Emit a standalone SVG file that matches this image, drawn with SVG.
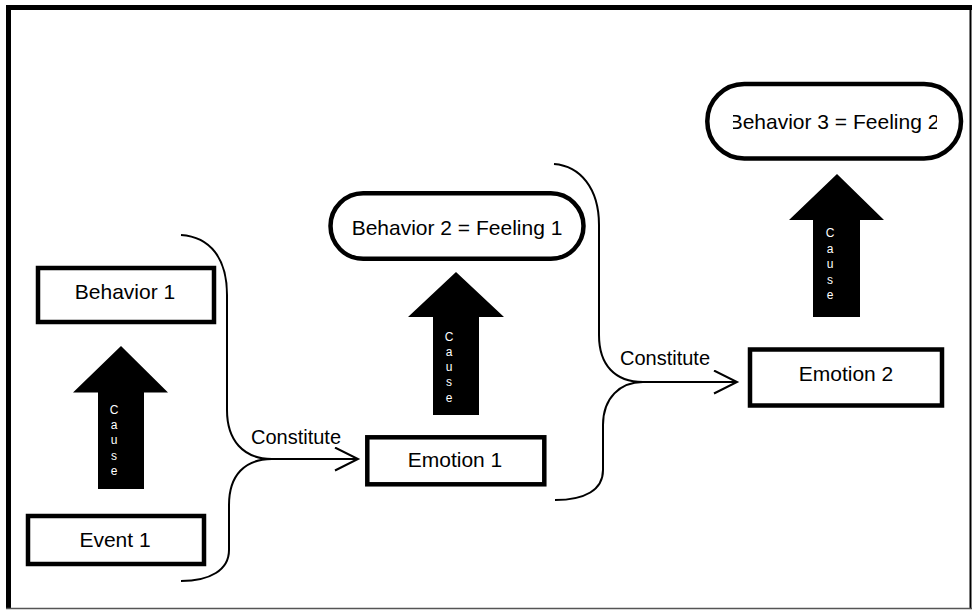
<svg xmlns="http://www.w3.org/2000/svg" width="973" height="611" viewBox="0 0 973 611">
  <style>
    .box { fill: #fff; stroke: #000; stroke-width: 4.5; }
    .lbl { font-family: "Liberation Sans", Arial, sans-serif; font-size: 21px; fill: #000; text-anchor: middle; }
    .con { font-family: "Liberation Sans", Arial, sans-serif; font-size: 20px; fill: #000; }
    .cause { font-family: "Liberation Sans", Arial, sans-serif; font-size: 12px; fill: #fff; text-anchor: middle; }
    .brace { fill: none; stroke: #000; stroke-width: 2; }
    .arr { fill: none; stroke: #000; stroke-width: 2; }
    .big { fill: #000; }
  </style>
  <defs>
    <marker id="open" markerUnits="userSpaceOnUse" markerWidth="30" markerHeight="30" refX="24" refY="12" orient="auto">
      <path d="M1,0.5 L24,12 L1,23.5" fill="none" stroke="#000" stroke-width="2"/>
    </marker>
    <clipPath id="clip3">
      <rect x="733" y="90" width="204" height="60"/>
    </clipPath>
  </defs>
  <rect width="973" height="611" fill="#fff"/>
  <g id="frame">
    <path d="M6,7.5 H972" stroke="#000" stroke-width="5"/>
    <path d="M8.5,5 V609" stroke="#000" stroke-width="5"/>
    <path d="M970.5,5 V609" stroke="#000" stroke-width="2"/>
    <path d="M6,608.5 H972" stroke="#555" stroke-width="1.5"/>
  </g>

  <g id="connectors">
    <path class="brace" d="M181,235 C210,237 227,258 227,295 L227,410 C227,440 243,459 272,459"/>
    <path class="brace" d="M272,459 C245,459 229,475 229,505 L229,550 C229,570 210,581 181,581"/>
    <path class="arr" d="M262,459 H358" marker-end="url(#open)"/>
    <path class="brace" d="M554,164 C580,166 599,188 599,225 L599,335 C599,365 615,382 643,382"/>
    <path class="brace" d="M643,382 C620,382 603,398 603,425 L603,470 C603,490 585,500 555,500"/>
    <path class="arr" d="M633,382 H737" marker-end="url(#open)"/>
    <text class="con" x="251" y="444">Constitute</text>
    <text class="con" x="620" y="365">Constitute</text>
  </g>

  <g id="cause1">
    <polygon class="big" points="121,346 168,392.5 144,392.5 144,489 98,489 98,392.5 73,392.5"/>
    <text class="cause" x="114" y="414"><tspan x="114">C</tspan><tspan x="114" dy="15.2">a</tspan><tspan x="114" dy="15.2">u</tspan><tspan x="114" dy="15.2">s</tspan><tspan x="114" dy="15.2">e</tspan></text>
  </g>
  <g id="cause2">
    <polygon class="big" points="456,272 504,317 479,317 479,415 433,415 433,317 408,317"/>
    <text class="cause" x="449" y="340.5"><tspan x="449">C</tspan><tspan x="449" dy="15.3">a</tspan><tspan x="449" dy="15.3">u</tspan><tspan x="449" dy="15.3">s</tspan><tspan x="449" dy="15.3">e</tspan></text>
  </g>
  <g id="cause3">
    <polygon class="big" points="837,174 884,220 860,220 860,317 813,317 813,220 789,220"/>
    <text class="cause" x="830" y="237.3"><tspan x="830">C</tspan><tspan x="830" dy="15.5">a</tspan><tspan x="830" dy="15.5">u</tspan><tspan x="830" dy="15.5">s</tspan><tspan x="830" dy="15.5">e</tspan></text>
  </g>

  <g id="behavior1">
    <rect class="box" x="38" y="268" width="176" height="54"/>
    <text class="lbl" x="125" y="299">Behavior 1</text>
  </g>
  <g id="event1">
    <rect class="box" x="28" y="516" width="176" height="48"/>
    <text class="lbl" x="115" y="547">Event 1</text>
  </g>
  <g id="emotion1">
    <rect class="box" x="367.3" y="437.3" width="177" height="47"/>
    <text class="lbl" x="455" y="467">Emotion 1</text>
  </g>
  <g id="behavior2">
    <rect class="box" x="330.5" y="193.3" width="253" height="65.5" rx="32.7"/>
    <text class="lbl" x="457" y="235">Behavior 2 = Feeling 1</text>
  </g>
  <g id="emotion2">
    <rect class="box" x="750" y="349.5" width="192" height="56"/>
    <text class="lbl" x="846" y="381">Emotion 2</text>
  </g>
  <g id="behavior3">
    <rect class="box" x="707.3" y="84" width="253.7" height="74.5" rx="37"/>
    <text class="lbl" x="834" y="128.5" clip-path="url(#clip3)">Behavior 3 = Feeling 2</text>
  </g>
</svg>
